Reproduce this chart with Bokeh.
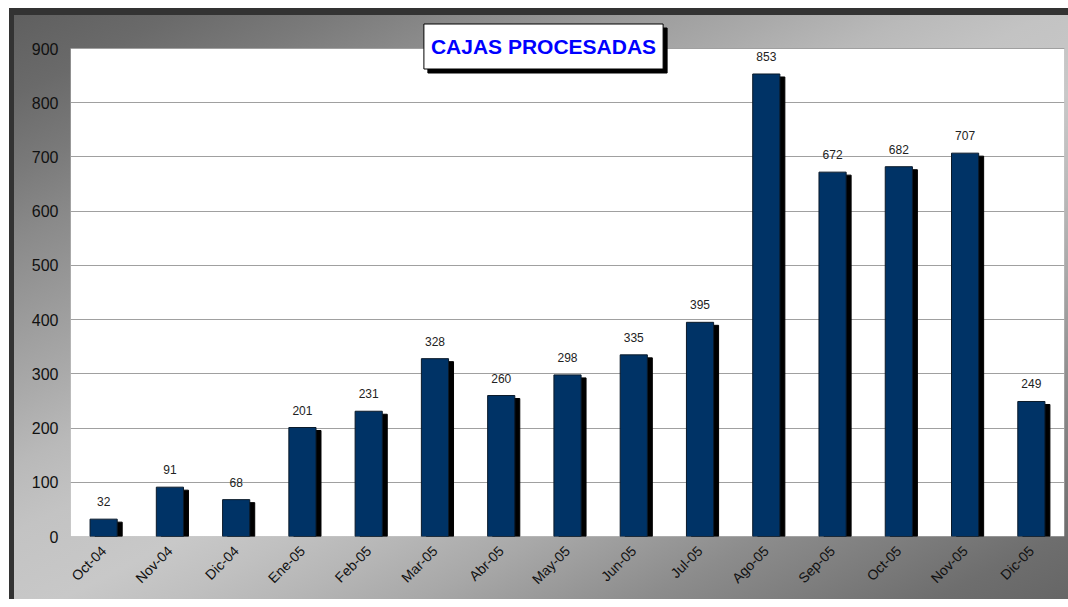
import math
from bokeh.plotting import figure
from bokeh.models import ColumnDataSource, FactorRange, Range1d, Label, FixedTicker, BoxAnnotation
from bokeh.transform import dodge
from bokeh.core.properties import value
from bokeh.embed import file_html
from bokeh.resources import INLINE

# ---- data ----
months = ["Oct-04", "Nov-04", "Dic-04", "Ene-05", "Feb-05", "Mar-05", "Abr-05", "May-05",
          "Jun-05", "Jul-05", "Ago-05", "Sep-05", "Oct-05", "Nov-05", "Dic-05"]
cajas = [32, 91, 68, 201, 231, 328, 260, 298, 335, 395, 853, 672, 682, 707, 249]
y_ticks = [0, 100, 200, 300, 400, 500, 600, 700, 800, 900]
chart_title = "CAJAS PROCESADAS"

Y_MAX = 900
PLOT_H = 488           # pixel height of the white plotting area (0..900)
FRAME_W, FRAME_H = 994, 521   # frame extends up under the title area
Y_TOP = Y_MAX * FRAME_H / PLOT_H
shadow_dy = 3 * Y_MAX / PLOT_H  # 3 px down, in data units

src = ColumnDataSource(dict(
    month=months,
    cajas=cajas,
    shadow=[v - shadow_dy for v in cajas],
    label=[str(v) for v in cajas],
))

p = figure(
    x_range=FactorRange(*months, range_padding=0),
    y_range=Range1d(0, Y_TOP),
    frame_width=FRAME_W, frame_height=FRAME_H,
    min_border_left=61, min_border_right=4, min_border_top=7, min_border_bottom=63,
    output_backend="svg", toolbar_location=None,
)
p.margin = (8, 0, 0, 9)
p.border_fill_color = None
p.background_fill_color = None
p.outline_line_color = None
p.styles = {
    "background": (
        "linear-gradient(#333333,#333333) 0 0 / 100% 7px no-repeat, "
        "linear-gradient(#333333,#333333) 0 0 / 5px 100% no-repeat, "
        "linear-gradient(153.4deg, #5e5e5e 0%, #6a6a6a 8%, #7a7a7a 15%, #8a8a8a 21%, #9a9a9a 28%, "
        "#aaaaaa 35%, #b9b9b9 41%, #c3c3c3 47%, #c8c8c8 55%, #c0c0c0 60%, #b6b6b6 65%, "
        "#a8a8a8 71%, #9a9a9a 76%, #8c8c8c 81%, #7c7c7c 88%, #6e6e6e 94%, #666666 100%)"
    )
}

# white plotting area 0..900
p.add_layout(BoxAnnotation(bottom=0, top=Y_MAX, fill_color="white", fill_alpha=1,
                           line_color="#8a8a8a", line_width=1, level="image"))

# bars: shadow then bar
p.vbar(x=dodge("month", 0.075, range=p.x_range), top="shadow", bottom=0, width=0.41,
       source=src, fill_color="black", line_color="black")
p.vbar(x="month", top="cajas", bottom=0, width=0.41, source=src,
       fill_color="#003366", line_color="#0a1a2a", line_width=1)

p.text(x="month", y="cajas", text="label", source=src, y_offset=-13,
       text_align="center", text_baseline="bottom",
       text_font=value("Liberation Sans"), text_font_size="12px", text_color="#222222")

# axes
p.yaxis.ticker = FixedTicker(ticks=y_ticks)
p.ygrid.ticker = FixedTicker(ticks=y_ticks)
p.ygrid.grid_line_color = "#a0a0a0"
p.ygrid.grid_line_width = 1
p.xgrid.grid_line_color = None
for ax in (p.xaxis[0], p.yaxis[0]):
    ax.axis_line_color = None
    ax.major_tick_line_color = None
    ax.minor_tick_line_color = None
    ax.major_tick_out = 0
    ax.major_tick_in = 0
    ax.major_label_text_font = "Liberation Sans"
    ax.major_label_text_color = "#111111"
p.yaxis.major_label_text_font_size = "16px"
p.yaxis.major_label_standoff = 12
p.xaxis.major_label_text_font_size = "14px"
p.xaxis.major_label_orientation = math.pi / 4
p.xaxis.major_label_standoff = 12

# title box with shadow
common = dict(x=473, y=490, x_units="screen", y_units="screen", text=chart_title,
              text_align="center", text_baseline="middle", text_font="Liberation Sans",
              text_font_style="bold", text_font_size="21px",
              padding=dict(left=7, right=7, top=11, bottom=11))
p.add_layout(Label(**common, x_offset=4, y_offset=-4, text_color="black",
                   background_fill_color="black", border_line_color="black"))
p.add_layout(Label(**common, text_color="#0000ff", background_fill_color="white",
                   border_line_color="black", border_line_width=1))

open("out.html", "w").write(file_html(p, INLINE))
